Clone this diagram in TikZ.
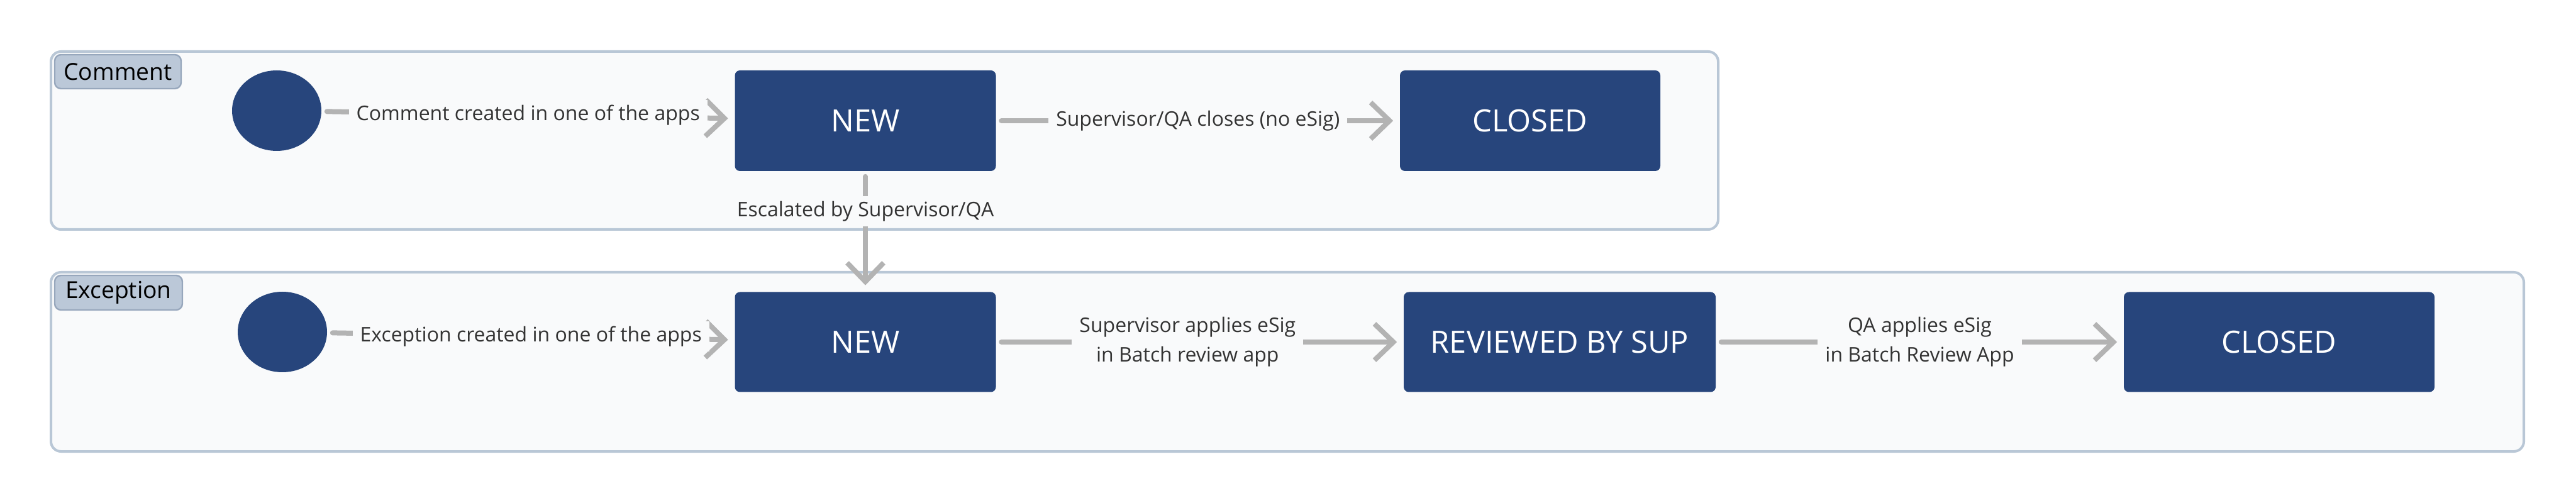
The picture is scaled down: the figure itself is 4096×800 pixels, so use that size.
\documentclass[tikz,border=0pt]{standalone}
\usepackage{fontspec}
\setmainfont{Open Sans}
\usepackage{xcolor}
\usepackage{tikz}
\usetikzlibrary{positioning,arrows.meta,shapes.geometric}

\definecolor{statebg}{HTML}{27457C}
\definecolor{groupbg}{HTML}{F9FAFB}
\definecolor{groupline}{HTML}{B9C7D6}
\definecolor{tagbg}{HTML}{BBC8D8}
\definecolor{tagline}{HTML}{97A7BC}
\definecolor{linegray}{HTML}{B3B3B3}
\definecolor{labeltext}{HTML}{333333}

\begin{document}
\begin{tikzpicture}[x=0.25pt,y=-0.25pt,
		group/.style={draw=groupline, fill=groupbg, line width=1pt, rounded corners=4pt},
		tag/.style={draw=tagline, fill=tagbg, line width=0.6pt, rounded corners=2.5pt, inner sep=0pt, font=\fontsize{9.3}{11}\selectfont},
		state/.style={fill=statebg, text=white, rounded corners=2pt, inner sep=0pt, minimum height=40pt, font=\fontsize{12.2}{14}\selectfont},
		start/.style={ellipse, fill=statebg, inner sep=0pt, minimum width=35.5pt, minimum height=32pt},
		flow/.style={draw=linegray, line width=2pt, line cap=round, -{Straight Barb[length=7.5pt,width=14.5pt]}, shorten <=2pt, shorten >=2.5pt},
		elabel/.style={fill=groupbg, text=labeltext, inner xsep=3pt, inner ysep=2pt, align=center, font=\fontsize{8}{11.75}\selectfont}]
				\useasboundingbox (0,0) rectangle (4096,800);
				\fill[white] (0,0) rectangle (4096,800);
				
				% groups
				\draw[group] (81,82) rectangle (2732,365);
				\draw[group] (81,433) rectangle (4013,718);
				\node[tag, minimum width=50.25pt, minimum height=13.5pt] (ctag) at (187.5,114) {Comment};
				\node[tag, minimum width=50.75pt, minimum height=13.75pt] (etag) at (188.5,465.5) {Exception};
				
				% Comment states
				\node[start] (cstart) at (440,176) {};
				\node[state, minimum width=103.75pt] (cnew) at (1376,192) {NEW};
				\node[state, minimum width=103.5pt] (cclosed) at (2433,192) {CLOSED};
				
				% Exception states
				\node[start] (estart) at (449,528) {};
				\node[state, minimum width=103.75pt, minimum height=39.75pt] (enew) at (1376,544) {NEW};
				\node[state, minimum width=124pt, minimum height=39.75pt] (erev) at (2480,544) {REVIEWED BY SUP};
				\node[state, minimum width=123.5pt, minimum height=39.75pt] (eclosed) at (3624,544) {CLOSED};
				
				% transitions
				\draw[flow] (cstart) -- node[elabel] {Comment created in one of the apps} (cnew);
				\draw[flow] (cnew) -- node[elabel] {Supervisor/QA closes (no eSig)} (cclosed);
				\draw[flow] (cnew) -- node[elabel, pos=0.33] {Escalated by Supervisor/QA} (enew);
				\draw[flow] (estart) -- node[elabel] {Exception created in one of the apps} (enew);
				\draw[flow] (enew) -- node[elabel, pos=0.47] {Supervisor applies eSig\\in Batch review app} (erev);
				\draw[flow] (erev) -- node[elabel] {QA applies eSig\\in Batch Review App} (eclosed);
			\end{tikzpicture}
\end{document}
